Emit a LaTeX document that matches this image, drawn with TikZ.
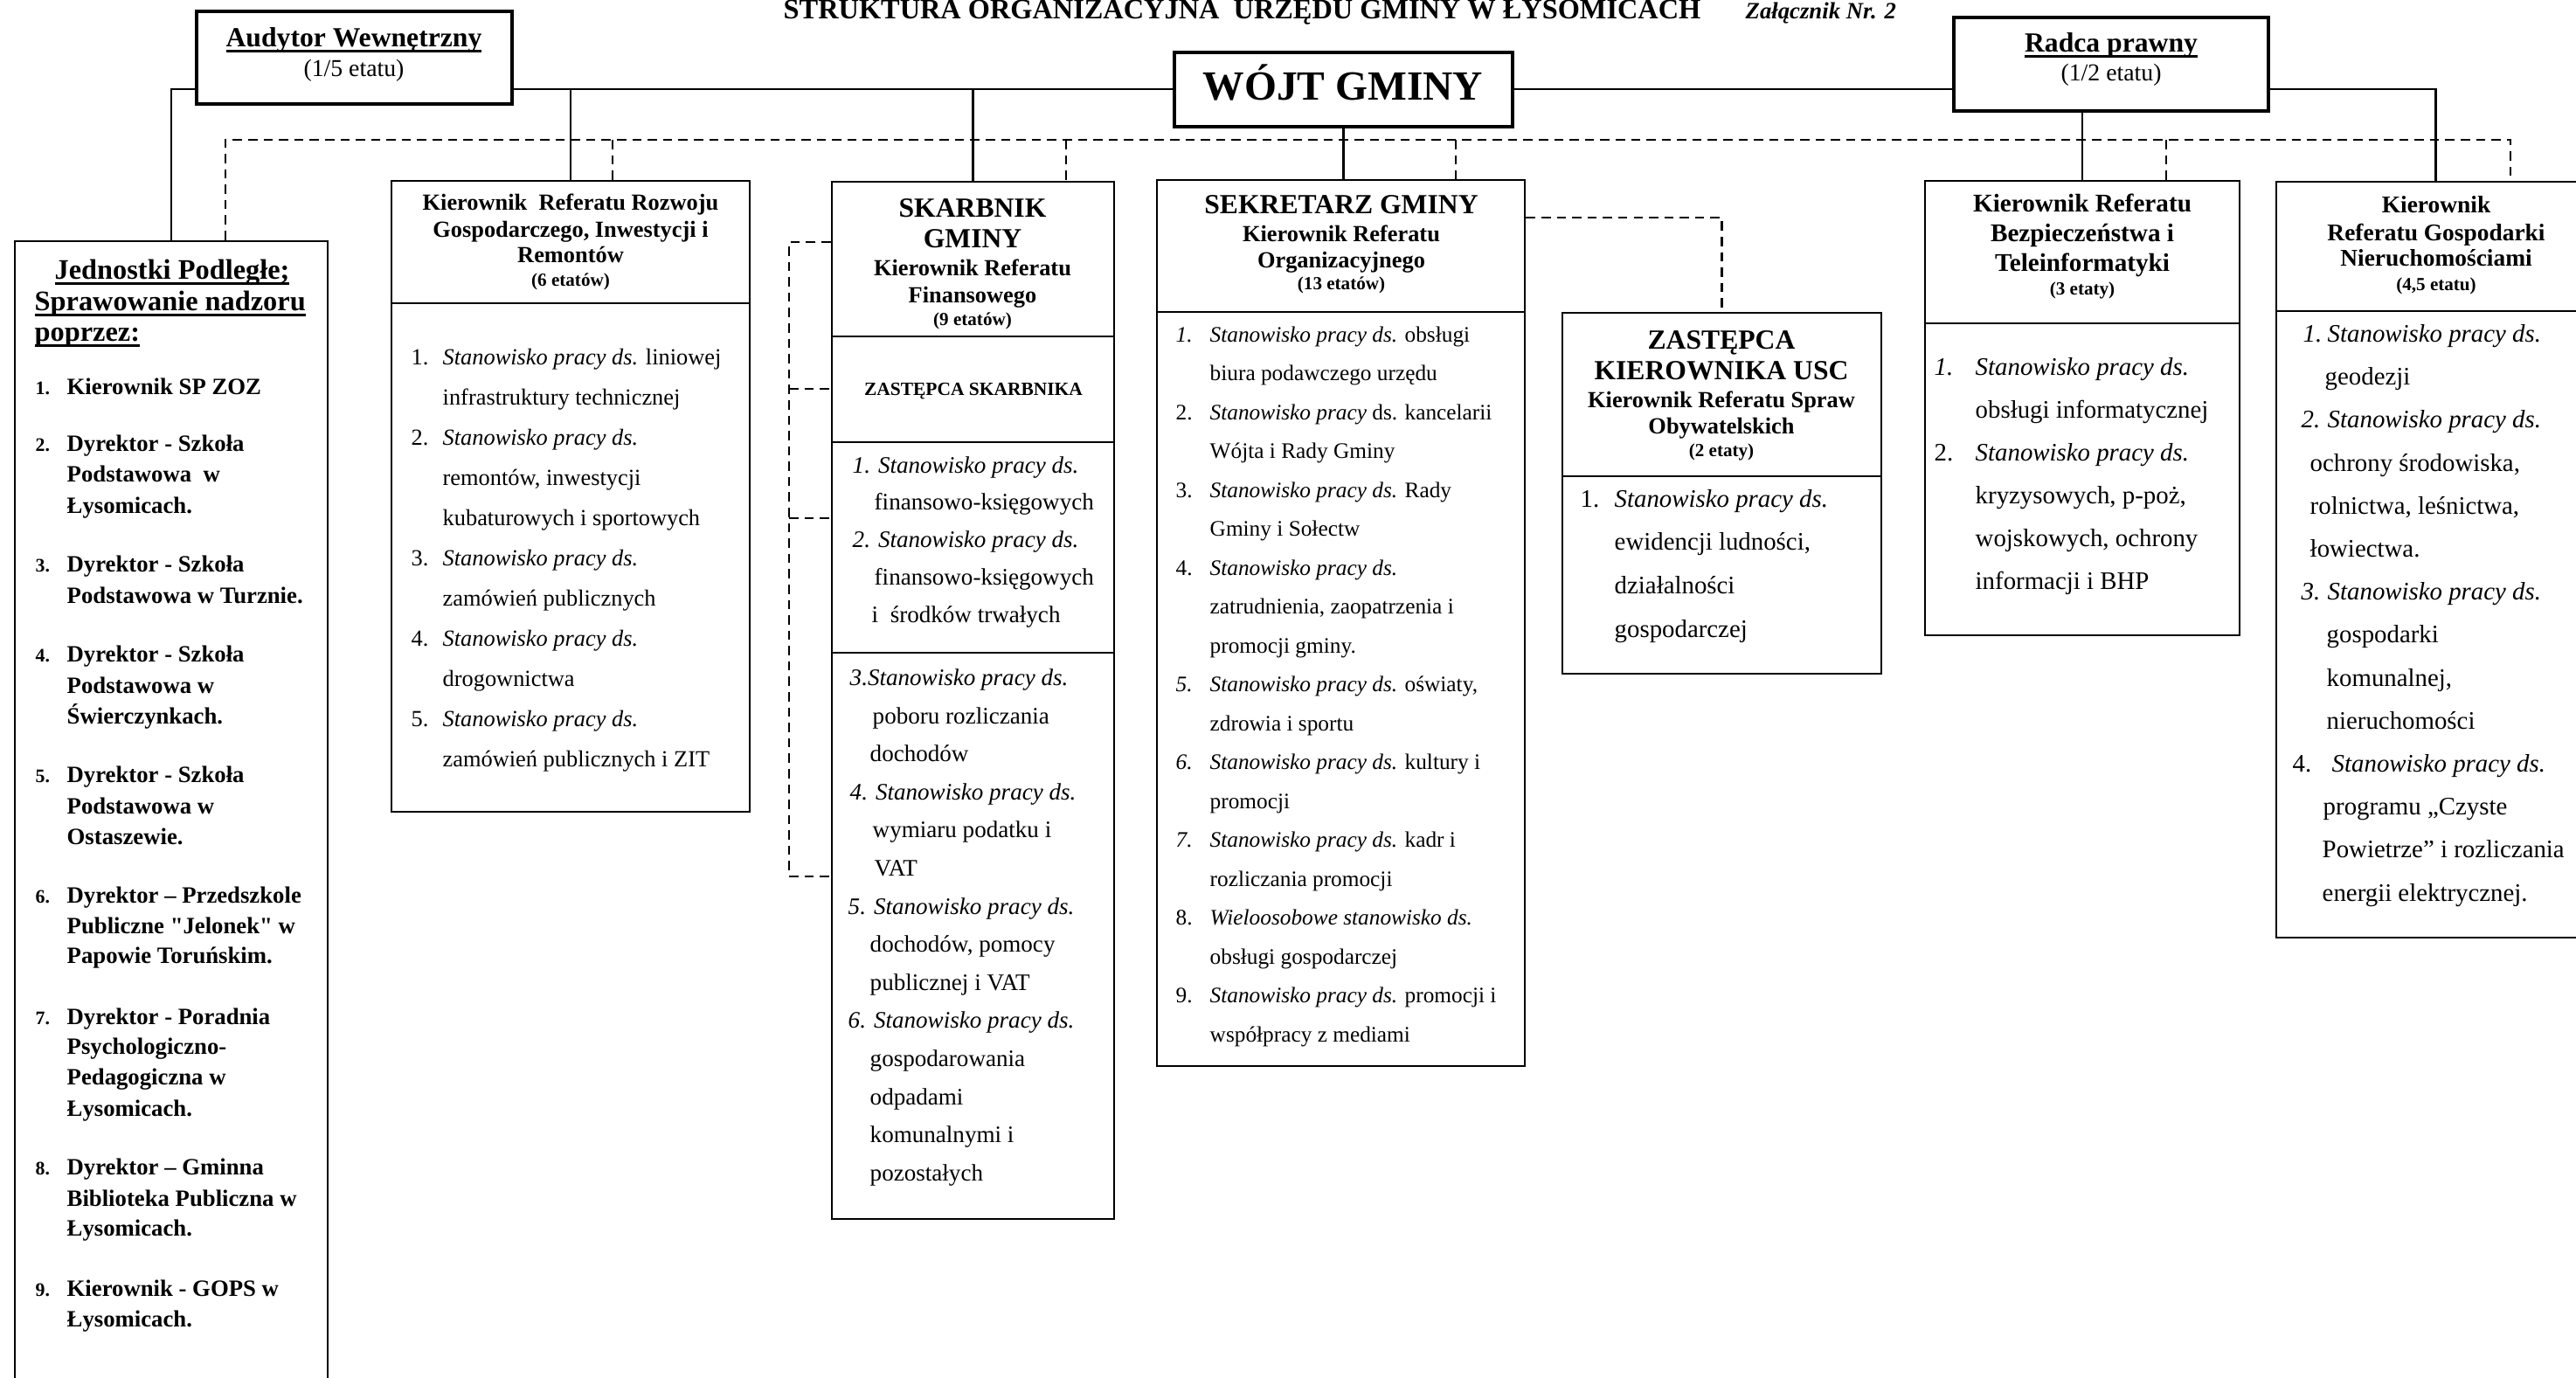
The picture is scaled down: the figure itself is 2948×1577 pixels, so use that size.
\documentclass[tikz,border=0pt]{standalone}
\usepackage{fontspec}
\setmainfont{Liberation Serif}
\usetikzlibrary{fit}
\newcounter{tln}
\newcommand\TL[4][]{\stepcounter{tln}\node[tl,#1] (L\arabic{tln}) at (#2,#3) {#4};}
\newcommand\TC[4][]{\stepcounter{tln}\node[tc,#1] (L\arabic{tln}) at (#2,#3) {#4};}
\newcommand\Spd{\textit{Stanowisko pracy ds.}}
\newcommand\thickul[1]{\setbox0\hbox{#1}\rlap{\copy0}\rule[-1.7pt]{\wd0}{0.75pt}}
\begin{document}
\begin{tikzpicture}[x=0.01cm,y=-0.01cm,
  box/.style={draw, line width=0.8pt, inner sep=0pt},
  topbox/.style={draw, line width=1pt, inner sep=0pt},
  sepl/.style={line width=0.7pt},
  conn/.style={line width=0.75pt},
  dconn/.style={line width=0.75pt, dash pattern=on 3pt off 2pt},
  tl/.style={anchor=base west, inner sep=0pt},
  tc/.style={anchor=base, inner sep=0pt},
  hBig/.style={font=\fontsize{9}{11}\selectfont\bfseries},
  hMid/.style={font=\fontsize{7.5}{9}\selectfont\bfseries},
  hSmall/.style={font=\fontsize{6}{7}\selectfont\bfseries}]
\useasboundingbox (0,0) rectangle (2948,1577);
\clip (0,0) rectangle (2948,1577);

% ---------- boxes ----------
\node[topbox, fit={(225,13) (586,119)}] (aud) {};
\node[topbox, fit={(1344,60) (1731,145)}] (wojt) {};
\node[topbox, fit={(2236,20) (2596,127)}] (radca) {};
\node[box, fit={(17,276) (375,1650)}] (jedn) {};
\node[box, fit={(448,207) (858,929)}] (rozw) {};
\node[box, fit={(952,208) (1275,1395)}] (skarb) {};
\node[box, fit={(1324,206) (1745,1220)}] (sekr) {};
\node[box, fit={(1788,358) (2153,771)}] (usc) {};
\node[box, fit={(2203,207) (2563,727)}] (bezp) {};
\node[box, fit={(2605,208) (2970,1073)}] (nier) {};

% separators
\coordinate (sR) at (0,347);
\draw[sepl] (rozw.west |- sR) -- (rozw.east |- sR);
\coordinate (sS1) at (0,385);
\coordinate (sS2) at (0,506);
\coordinate (sS3) at (0,747);
\draw[sepl] (skarb.west |- sS1) -- (skarb.east |- sS1);
\draw[sepl] (skarb.west |- sS2) -- (skarb.east |- sS2);
\draw[sepl] (skarb.west |- sS3) -- (skarb.east |- sS3);
\coordinate (sK) at (0,357);
\draw[sepl] (sekr.west |- sK) -- (sekr.east |- sK);
\coordinate (sU) at (0,545);
\draw[sepl] (usc.west |- sU) -- (usc.east |- sU);
\coordinate (sB) at (0,370);
\draw[sepl] (bezp.west |- sB) -- (bezp.east |- sB);
\coordinate (sN) at (0,356);
\draw[sepl] (nier.west |- sN) -- (nier.east |- sN);

% ---------- solid connectors ----------
\coordinate (yM) at (0,102);
\draw[conn] (aud.east |- yM) -- (wojt.west |- yM);
\draw[conn] (wojt.east |- yM) -- (radca.west |- yM);
\draw[conn] (aud.west |- yM) -| (jedn.north);
\draw[conn] (radca.east |- yM) -| (nier.north);
\draw[conn] (rozw.north |- yM) -- (rozw.north);
\draw[conn] (skarb.north |- yM) -- (skarb.north);
\draw[conn] (wojt.south) -- (sekr.north -| wojt.south);
\draw[conn] (bezp.north |- radca.south) -- (bezp.north);

% ---------- dashed connectors ----------
\coordinate (dL) at (258,160);
\coordinate (dR) at (2873,160);
\coordinate (d1) at (701,160);
\coordinate (d2) at (1220,160);
\coordinate (d3) at (1666,160);
\coordinate (d4) at (2479,160);
\draw[dconn] (jedn.north -| dL) -- (dL) -- (dR) -- (nier.north -| dR);
\draw[dconn] (d1) -- (rozw.north -| d1);
\draw[dconn] (d2) -- (skarb.north -| d2);
\draw[dconn] (d3) -- (sekr.north -| d3);
\draw[dconn] (d4) -- (bezp.north -| d4);
\coordinate (sUc) at (1975,249);
\draw[dconn] (sekr.east |- sUc) -| (usc.north);
\coordinate (bT) at (903,277);
\coordinate (b2) at (903,445);
\coordinate (b3) at (903,593);
\coordinate (bB) at (903,1003);
\draw[dconn] (skarb.west |- bT) -- (bT) -- (bB) -- (skarb.west |- bB);
\draw[dconn] (b2) -- (skarb.west |- b2);
\draw[dconn] (b3) -- (skarb.west |- b3);

% ---------- title ----------
\TL[font=\fontsize{9.2}{11}\selectfont\bfseries]{896}{22}{STRUKTURA ORGANIZACYJNA\ \ URZĘDU GMINY W ŁYSOMICACH}
\TL[font=\fontsize{7.6}{9}\selectfont\bfseries\itshape]{1997}{22}{Załącznik Nr. 2}

% ---------- top boxes text ----------
\TC[hBig]{405}{54}{\thickul{Audytor Wewnętrzny}}
\TC[font=\fontsize{7.9}{9}\selectfont]{405}{88}{(1/5 etatu)}
\TC[font=\fontsize{13.5}{15}\selectfont\bfseries]{1537}{115}{WÓJT GMINY}
\TC[hBig]{2416}{60}{\thickul{Radca prawny}}
\TC[font=\fontsize{7.9}{9}\selectfont]{2416}{93}{(1/2 etatu)}

% ---------- Jednostki ----------
\begin{scope}[font=\fontsize{9.2}{11}\selectfont\bfseries]
\TL{62}{320}{\thickul{Jednostki Podległe;}}
\TL{39}{356}{\thickul{Sprawowanie nadzoru}}
\TL{39}{391}{\thickul{poprzez:}}
\end{scope}
\begin{scope}[font=\fontsize{6.2}{7}\selectfont\bfseries]
\TL{40}{452}{1.}
\TL{40}{517}{2.}
\TL{40}{655}{3.}
\TL{40}{758}{4.}
\TL{40}{896}{5.}
\TL{40}{1034}{6.}
\TL{40}{1173}{7.}
\TL{40}{1345}{8.}
\TL{40}{1484}{9.}
\end{scope}
\begin{scope}[font=\fontsize{7.6}{9}\selectfont\bfseries]
\TL{76}{452}{Kierownik SP ZOZ}
\TL{76}{517}{Dyrektor - Szkoła}
\TL{76}{552}{Podstawowa\ \ w}
\TL{76}{588}{Łysomicach.}
\TL{76}{655}{Dyrektor - Szkoła}
\TL{76}{691}{Podstawowa w Turznie.}
\TL{76}{758}{Dyrektor - Szkoła}
\TL{76}{794}{Podstawowa w}
\TL{76}{829}{Świerczynkach.}
\TL{76}{896}{Dyrektor - Szkoła}
\TL{76}{932}{Podstawowa w}
\TL{76}{967}{Ostaszewie.}
\TL{76}{1034}{Dyrektor – Przedszkole}
\TL{76}{1069}{Publiczne \textquotedbl Jelonek\textquotedbl{} w}
\TL{76}{1103}{Papowie Toruńskim.}
\TL{76}{1173}{Dyrektor - Poradnia}
\TL{76}{1207}{Psychologiczno-}
\TL{76}{1242}{Pedagogiczna w}
\TL{76}{1278}{Łysomicach.}
\TL{76}{1345}{Dyrektor – Gminna}
\TL{76}{1380}{Biblioteka Publiczna w}
\TL{76}{1414}{Łysomicach.}
\TL{76}{1484}{Kierownik - GOPS w}
\TL{76}{1518}{Łysomicach.}
\end{scope}

% ---------- Rozwoju ----------
\TC[hMid]{653}{241}{Kierownik\ \ Referatu Rozwoju}
\TC[hMid]{653}{272}{Gospodarczego, Inwestycji i}
\TC[hMid]{653}{301}{Remontów}
\TC[hSmall]{653}{328}{(6 etatów)}
\begin{scope}[font=\fontsize{7.5}{9}\selectfont]
\TL{470}{418}{1.}
\TL{506}{418}{\Spd{} liniowej}
\TL{506}{464}{infrastruktury technicznej}
\TL{470}{510}{2.}
\TL{506}{510}{\Spd}
\TL{506}{556}{remontów, inwestycji}
\TL{506}{602}{kubaturowych i sportowych}
\TL{470}{648}{3.}
\TL{506}{648}{\Spd}
\TL{506}{694}{zamówień publicznych}
\TL{470}{740}{4.}
\TL{506}{740}{\Spd}
\TL{506}{786}{drogownictwa}
\TL{470}{832}{5.}
\TL{506}{832}{\Spd}
\TL{506}{878}{zamówień publicznych i ZIT}
\end{scope}

% ---------- Skarbnik ----------
\TC[hBig]{1113}{249}{SKARBNIK}
\TC[hBig]{1113}{284}{GMINY}
\TC[hMid]{1113}{316}{Kierownik Referatu}
\TC[hMid]{1113}{347}{Finansowego}
\TC[hSmall]{1113}{373}{(9 etatów)}
\TC[font=\fontsize{6.1}{7}\selectfont\bfseries]{1114}{453}{ZASTĘPCA SKARBNIKA}
\begin{scope}[font=\fontsize{7.7}{9}\selectfont]
\TL{975}{542}{\textit{1. Stanowisko pracy ds.}}
\TL{1000}{584}{finansowo-księgowych}
\TL{975}{627}{\textit{2. Stanowisko pracy ds.}}
\TL{1000}{670}{finansowo-księgowych}
\TL{997}{713}{i\ \ środków trwałych}
\TL{972}{785}{\textit{3.Stanowisko pracy ds.}}
\TL{998}{829}{poboru rozliczania}
\TL{995}{872}{dochodów}
\TL{972}{916}{\textit{4. Stanowisko pracy ds.}}
\TL{998}{959}{wymiaru podatku i}
\TL{1000}{1003}{VAT}
\TL{970}{1047}{\textit{5. Stanowisko pracy ds.}}
\TL{995}{1090}{dochodów, pomocy}
\TL{995}{1134}{publicznej i VAT}
\TL{970}{1177}{\textit{6. Stanowisko pracy ds.}}
\TL{995}{1221}{gospodarowania}
\TL{995}{1265}{odpadami}
\TL{995}{1308}{komunalnymi i}
\TL{995}{1352}{pozostałych}
\end{scope}

% ---------- Sekretarz ----------
\TC[hBig]{1535}{245}{SEKRETARZ GMINY}
\TC[hMid]{1535}{277}{Kierownik Referatu}
\TC[hMid]{1535}{307}{Organizacyjnego}
\TC[hSmall]{1535}{332}{(13 etatów)}
\begin{scope}[font=\fontsize{7.2}{9}\selectfont]
\TL{1345}{392}{\textit{1.}}
\TL{1384}{392}{\Spd{} obsługi}
\TL{1384}{436}{biura podawczego urzędu}
\TL{1345}{481}{2.}
\TL{1384}{481}{\textit{Stanowisko pracy} ds. kancelarii}
\TL{1384}{525}{Wójta i Rady Gminy}
\TL{1345}{570}{3.}
\TL{1384}{570}{\Spd{} Rady}
\TL{1384}{614}{Gminy i Sołectw}
\TL{1345}{659}{4.}
\TL{1384}{659}{\Spd}
\TL{1384}{703}{zatrudnienia, zaopatrzenia i}
\TL{1384}{748}{promocji gminy.}
\TL{1345}{792}{\textit{5.}}
\TL{1384}{792}{\Spd{} oświaty,}
\TL{1384}{837}{zdrowia i sportu}
\TL{1345}{881}{\textit{6.}}
\TL{1384}{881}{\Spd{} kultury i}
\TL{1384}{926}{promocji}
\TL{1345}{970}{\textit{7.}}
\TL{1384}{970}{\Spd{} kadr i}
\TL{1384}{1015}{rozliczania promocji}
\TL{1345}{1059}{8.}
\TL{1384}{1059}{\textit{Wieloosobowe stanowisko ds.}}
\TL{1384}{1104}{obsługi gospodarczej}
\TL{1345}{1148}{9.}
\TL{1384}{1148}{\Spd{} promocji i}
\TL{1384}{1193}{współpracy z mediami}
\end{scope}

% ---------- Zastepca USC ----------
\TC[hBig]{1970}{400}{ZASTĘPCA}
\TC[hBig]{1970}{435}{KIEROWNIKA USC}
\TC[hMid]{1970}{467}{Kierownik Referatu Spraw}
\TC[hMid]{1970}{497}{Obywatelskich}
\TC[hSmall]{1970}{523}{(2 etaty)}
\begin{scope}[font=\fontsize{8.2}{10}\selectfont]
\TL{1808}{581}{1.}
\TL{1847}{581}{\Spd}
\TL{1847}{630}{ewidencji ludności,}
\TL{1847}{680}{działalności}
\TL{1847}{730}{gospodarczej}
\end{scope}

% ---------- Bezpieczenstwa ----------
\TC[font=\fontsize{8.3}{10}\selectfont\bfseries]{2383}{243}{Kierownik Referatu}
\TC[font=\fontsize{8.3}{10}\selectfont\bfseries]{2383}{277}{Bezpieczeństwa i}
\TC[font=\fontsize{8.3}{10}\selectfont\bfseries]{2383}{311}{Teleinformatyki}
\TC[hSmall]{2383}{338}{(3 etaty)}
\begin{scope}[font=\fontsize{8.2}{10}\selectfont]
\TL{2213}{430}{\textit{1.}}
\TL{2260}{430}{\Spd}
\TL{2260}{479}{obsługi informatycznej}
\TL{2213}{528}{2.}
\TL{2260}{528}{\Spd}
\TL{2260}{577}{kryzysowych, p-poż,}
\TL{2260}{626}{wojskowych, ochrony}
\TL{2260}{675}{informacji i BHP}
\end{scope}

% ---------- Nieruchomosci ----------
\TC[font=\fontsize{7.8}{10}\selectfont\bfseries]{2788}{244}{Kierownik}
\TC[font=\fontsize{7.8}{10}\selectfont\bfseries]{2788}{276}{Referatu Gospodarki}
\TC[font=\fontsize{7.8}{10}\selectfont\bfseries]{2788}{305}{Nieruchomościami}
\TC[hSmall]{2788}{333}{(4,5 etatu)}
\begin{scope}[font=\fontsize{8.2}{10}\selectfont]
\TL{2635}{392}{\textit{1.}}
\TL{2663}{392}{\Spd}
\TL{2660}{441}{geodezji}
\TL{2633}{490}{\textit{2.}}
\TL{2663}{490}{\Spd}
\TL{2643}{540}{ochrony środowiska,}
\TL{2643}{589}{rolnictwa, leśnictwa,}
\TL{2643}{638}{łowiectwa.}
\TL{2633}{687}{\textit{3.}}
\TL{2663}{687}{\Spd}
\TL{2662}{736}{gospodarki}
\TL{2662}{786}{komunalnej,}
\TL{2662}{835}{nieruchomości}
\TL{2623}{884}{4.}
\TL{2668}{884}{\Spd}
\TL{2658}{933}{programu „Czyste}
\TL{2657}{982}{Powietrze” i rozliczania}
\TL{2657}{1032}{energii elektrycznej.}
\end{scope}
\end{tikzpicture}
\end{document}
